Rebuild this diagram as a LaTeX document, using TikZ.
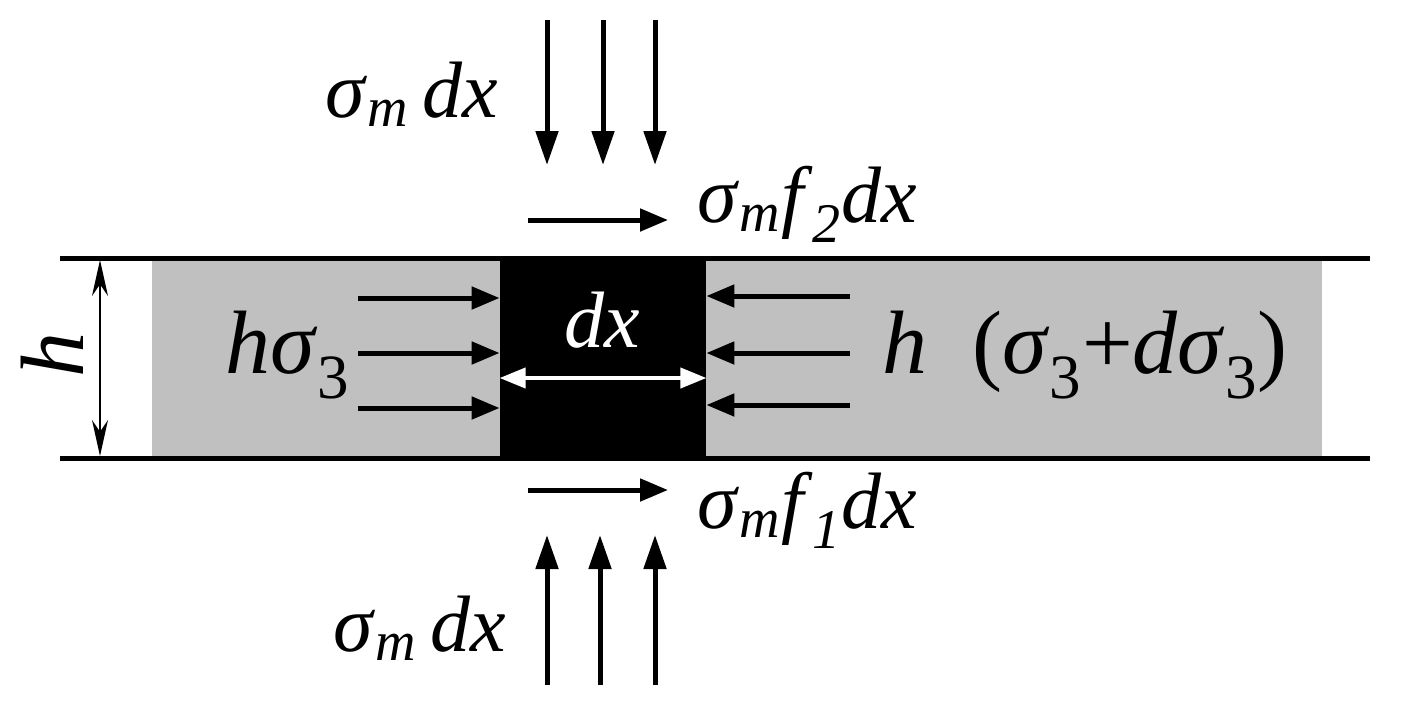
\documentclass[tikz,border=0pt]{standalone}
\usepackage{fontspec}
\setmainfont{Liberation Serif}
\usetikzlibrary{arrows.meta}
\newcommand{\sg}{\textit{σ}}
\newcommand{\sgm}{\sg\textsubscript{\textit{m}}}

\tikzset{
  force/.style={line width=2.5pt, -{Triangle[length=17pt,width=11pt]}},
  push/.style={line width=2.5pt, -{Triangle[length=14pt,width=11pt]}},
  wall/.style={line width=2.5pt},
  lbl/.style={inner sep=0.75pt, font=\fontsize{40}{42}\selectfont},
  biglbl/.style={inner sep=0.75pt, font=\fontsize{45}{47}\selectfont},
}

\begin{document}
\begin{tikzpicture}[x=0.5pt,y=0.5pt,yscale=-1,xscale=1]
\useasboundingbox (0,0) rectangle (1425,709);

%Shape: Rectangle [id:band]
\fill [color={rgb,255:red,192;green,192;blue,192}] (152,261) rectangle (1322,456);
%Shape: Rectangle [id:elem]
\node (elem) [fill=black, minimum width=103pt, minimum height=100pt, inner sep=0pt] at (603,358) {};

%Straight Lines [id:walls]
\draw [wall] (60,258) -- (1370,258);
\draw [wall] (60,458) -- (1370,458);

%Straight Lines [id:normal loads]
\foreach \x in {547,603,655} \draw [force] (\x,20) -- (\x,165);
\foreach \x in {547,600,655} \draw [force] (\x,685) -- (\x,535);

%Straight Lines [id:side pressure]
\foreach \y in {298,353,408} {
  \coordinate (l\y) at (358,\y);
  \draw [push] (l\y) -- (l\y -| elem.west);
}
\foreach \y in {296,353,405} {
  \coordinate (r\y) at (850,\y);
  \draw [push] (r\y) -- (r\y -| elem.east);
}

%Straight Lines [id:width of elem]
\coordinate (mid) at (600,378);
\draw [white, line width=2pt, {Triangle[length=13pt,width=10pt]}-{Triangle[length=13pt,width=10pt]}] (mid -| elem.west) -- (mid -| elem.east);

%Straight Lines [id:height]
\coordinate (htop) at (100,260);
\coordinate (hbot) at (100,456);
\draw [line width=1pt, {Stealth[length=18pt,width=8pt]}-{Stealth[length=18pt,width=8pt]}] (htop) -- (hbot);

%Straight Lines [id:friction]
\coordinate (ftop) at (528,220);
\coordinate (fbot) at (528,490);
\draw [push] (ftop) -- ++(140,0);
\draw [push] (fbot) -- ++(140,0);

% Text Node
\node (topload) [lbl] at (412,94) {\sgm\,\textit{dx}};
% Text Node
\node (botload) [lbl] at (420,628) {\sgm\,\textit{dx}};
% Text Node
\node (fric2) [lbl, anchor=west] at (696,204) {\sgm\textit{f}\textsubscript{\textit{2}}\textit{dx}};
% Text Node
\node (fric1) [lbl, anchor=west] at (696,510) {\sgm\textit{f}\textsubscript{\textit{1}}\textit{dx}};
% Text Node
\node (dxlbl) [lbl, white] at (602,320) {\textit{dx}};
% Text Node
\node (leftp) [biglbl] at (288,355) {\textit{h}\sg\textsubscript{3}};
% Text Node
\node (rightp) [biglbl] at (1085,355) {\textit{h}\ \ (\sg\textsubscript{3}+\textit{d}\sg\textsubscript{3})};
% Text Node
\node (hlbl) [biglbl, rotate=90] at (52,355) {\textit{h}};

\end{tikzpicture}
\end{document}
